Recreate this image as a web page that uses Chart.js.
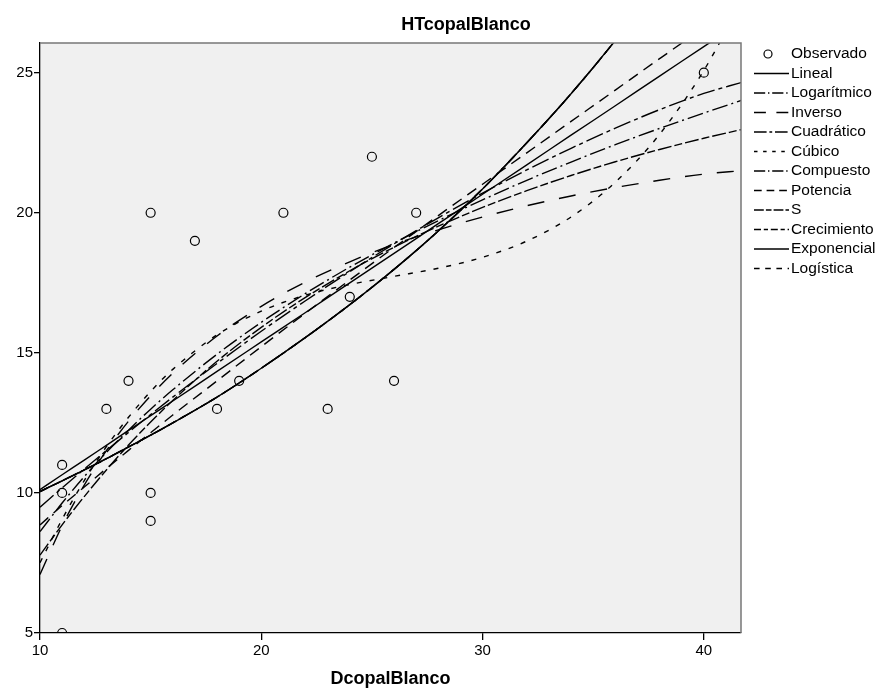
<!DOCTYPE html>
<html>
<head>
<meta charset="utf-8">
<script src="https://cdn.jsdelivr.net/npm/chart.js@4"></script>
<style>
  html, body { margin: 0; padding: 0; background: #fff; }
  #wrap { width: 884px; height: 698px; position: relative; }
</style>
</head>
<body>
<div id="wrap"><canvas id="chart"></canvas></div>
<script>
// observed points (DcopalBlanco, HTcopalBlanco)
const obsX = [11, 11, 11, 13, 14, 15, 15, 15, 17, 18, 19, 21, 23, 24, 25, 26, 27, 40];
const obsY = [5, 11, 10, 13, 14, 20, 10, 9, 19, 13, 14, 20, 13, 17, 22, 14, 20, 25];

// x positions where the fitted curves were read
const curveX = [10, 11, 12, 13, 14, 15, 16, 18, 20, 22, 24, 26, 28, 30, 32, 34, 36, 38, 40, 41.7];

const lineal      = [10.12, 10.65, 11.17, 11.70, 12.23, 12.76, 13.28, 14.34, 15.39, 16.44, 17.50, 18.55, 19.61, 20.66, 21.71, 22.77, 23.82, 24.88, 25.93, 26.83];
const logaritmico = [8.62, 9.64, 10.58, 11.45, 12.24, 12.99, 13.68, 14.95, 16.09, 17.12, 18.06, 18.92, 19.72, 20.46, 21.16, 21.81, 22.43, 23.01, 23.56, 24.01];
const inverso     = [7.09, 8.83, 10.28, 11.51, 12.56, 13.47, 14.27, 15.60, 16.66, 17.53, 18.25, 18.87, 19.39, 19.85, 20.25, 20.60, 20.90, 21.16, 21.38, 21.50];
const cuadratico  = [9.49, 10.18, 10.85, 11.51, 12.16, 12.80, 13.42, 14.62, 15.77, 16.86, 17.90, 18.89, 19.82, 20.70, 21.53, 22.30, 23.02, 23.68, 24.26, 24.65];
const cubico      = [7.51, 9.06, 10.44, 11.65, 12.70, 13.62, 14.41, 15.64, 16.49, 17.06, 17.44, 17.73, 18.02, 18.41, 18.99, 19.85, 21.09, 22.80, 25.08, 27.53];
const potencia    = [8.86, 9.55, 10.21, 10.87, 11.52, 12.15, 12.78, 14.00, 15.22, 16.42, 17.60, 18.76, 19.90, 21.02, 22.14, 23.26, 24.38, 25.50, 26.60, 27.50];
const curvaS      = [7.78, 8.86, 9.87, 10.82, 11.71, 12.53, 13.30, 14.70, 15.91, 16.98, 17.93, 18.77, 19.52, 20.19, 20.79, 21.33, 21.82, 22.26, 22.66, 22.97];
const exponencial = [10.05, 10.43, 10.82, 11.22, 11.64, 12.06, 12.50, 13.42, 14.45, 15.55, 16.72, 17.98, 19.35, 20.85, 22.50, 24.25, 26.15, 28.20, 30.40, 32.40];

const xTicks = [10, 20, 30, 40];
const yTicks = [5, 10, 15, 20, 25];

const toPts = (xs, ys) => xs.map((x, i) => ({ x, y: ys[i] }));

function curve(label, values, dash) {
  return {
    label,
    data:        toPts(curveX, values),
    showLine:    true,
    borderColor: '#000',
    borderWidth: 1.4,
    borderDash:  dash,
    pointRadius: 0,
    cubicInterpolationMode: 'monotone',
  };
}

const datasets = [
  {
    label:            'Observado',
    data:             toPts(obsX, obsY),
    showLine:         false,
    pointRadius:      4.5,
    pointStyle:       'circle',
    borderColor:      '#000',
    backgroundColor:  'rgba(0,0,0,0)',
    borderWidth:      1.2,
  },
  curve('Lineal',      lineal,      []),
  curve('Logarítmico', logaritmico, [16, 4, 2, 4]),
  curve('Inverso',     inverso,     [17, 15]),
  curve('Cuadrático',  cuadratico,  [18, 4, 4, 4]),
  curve('Cúbico',      cubico,      [5, 8]),
  curve('Compuesto',   exponencial, [16, 4, 2, 4]),
  curve('Potencia',    potencia,    [11, 7]),
  curve('S',           curvaS,      [14, 3, 8, 3]),
  curve('Crecimiento', exponencial, [10, 4, 6, 4]),
  curve('Exponencial', exponencial, []),
  curve('Logística',   exponencial, [8, 8]),
];

const FONT = '"Liberation Sans", Arial, sans-serif';

// plot background, frame, title and legend
const decor = {
  id: 'decor',
  beforeDraw(chart) {
    const { ctx, chartArea: a } = chart;
    ctx.save();
    ctx.fillStyle = '#f0f0f0';
    ctx.fillRect(a.left, a.top, a.right - a.left, a.bottom - a.top);
    ctx.restore();
  },
  afterDraw(chart) {
    const { ctx, chartArea: a } = chart;
    ctx.save();
    // top / right frame
    ctx.strokeStyle = '#777';
    ctx.lineWidth = 1.5;
    ctx.beginPath();
    ctx.moveTo(a.left, a.top);
    ctx.lineTo(a.right, a.top);
    ctx.lineTo(a.right, a.bottom);
    ctx.stroke();

    // title
    ctx.fillStyle = '#000';
    ctx.font = 'bold 18px ' + FONT;
    ctx.textAlign = 'center';
    ctx.textBaseline = 'alphabetic';
    ctx.fillText('HTcopalBlanco', 466, 30);

    // legend
    ctx.font = '15.5px ' + FONT;
    ctx.textAlign = 'left';
    ctx.textBaseline = 'middle';
    chart.data.datasets.forEach((ds, i) => {
      const y = 54 + i * 19.5;
      ctx.strokeStyle = '#000';
      if (i === 0) {
        ctx.setLineDash([]);
        ctx.lineWidth = 1.2;
        ctx.beginPath();
        ctx.arc(768, y, 4, 0, Math.PI * 2);
        ctx.stroke();
      } else {
        ctx.setLineDash(ds.borderDash.map(v => v * 0.7));
        ctx.lineWidth = 1.4;
        ctx.beginPath();
        ctx.moveTo(754, y);
        ctx.lineTo(789, y);
        ctx.stroke();
      }
      ctx.setLineDash([]);
      ctx.fillText(ds.label, 791, y);
    });
    ctx.restore();
  },
};

new Chart(document.getElementById('chart'), {
  type: 'scatter',
  data: { datasets },
  options: {
    responsive:          true,
    maintainAspectRatio: false,
    animation:           false,
    layout: { padding: { top: 43, right: 143, left: 0, bottom: 0 } },
    plugins: {
      legend:  { display: false },
      tooltip: { enabled: false },
    },
    scales: {
      x: {
        type: 'linear',
        min:  10,
        max:  41.68,
        afterFit: s => { s.height = 65; },
        afterBuildTicks: s => { s.ticks = xTicks.map(v => ({ value: v })); },
        grid:   { drawOnChartArea: false, tickLength: 7, color: '#000', lineWidth: 1.3 },
        border: { color: '#000', width: 1.3 },
        ticks:  { color: '#000', font: { family: FONT, size: 15 }, padding: 2, maxRotation: 0 },
        title:  {
          display: true,
          text:    'DcopalBlanco',
          color:   '#000',
          font:    { family: FONT, size: 18, weight: 'bold' },
          padding: { top: 0, bottom: 8 },
        },
      },
      y: {
        type: 'linear',
        min:  5,
        max:  26.06,
        afterFit: s => { s.width = 40; },
        afterBuildTicks: s => { s.ticks = yTicks.map(v => ({ value: v })); },
        grid:   { drawOnChartArea: false, tickLength: 6, color: '#000', lineWidth: 1.3 },
        border: { color: '#000', width: 1.3 },
        ticks:  { color: '#000', font: { family: FONT, size: 15 }, padding: 1 },
      },
    },
  },
  plugins: [decor],
});
</script>
</body>
</html>
